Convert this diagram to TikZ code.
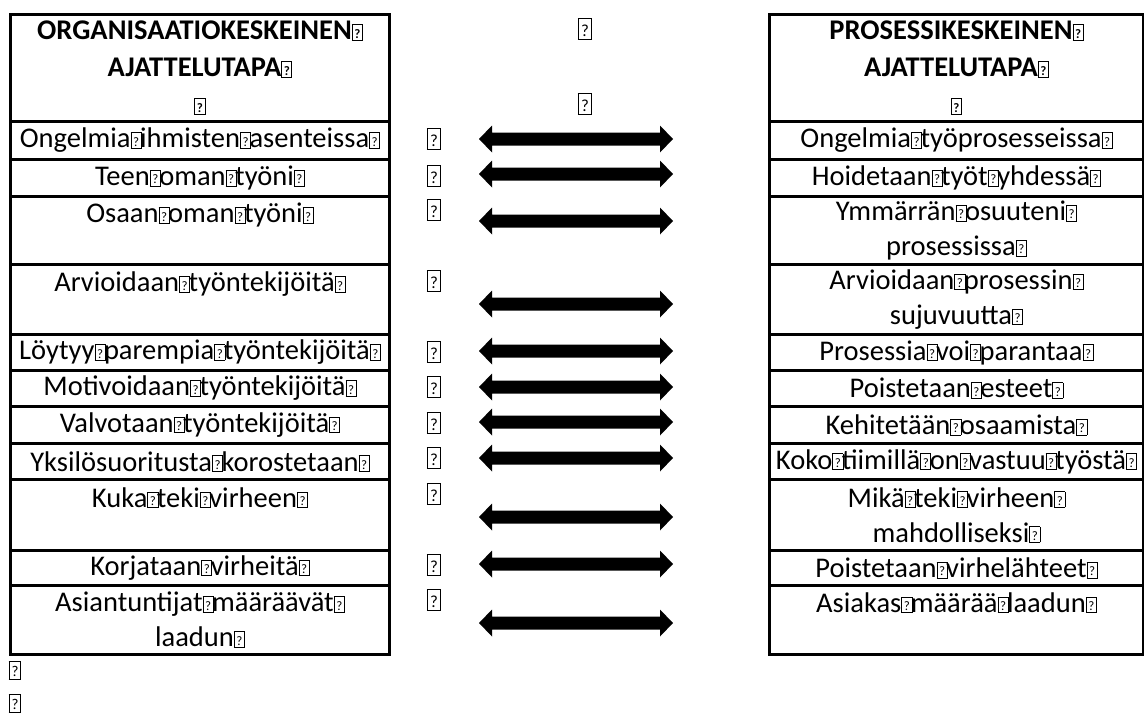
\documentclass[tikz,border=0pt]{standalone}
\usepackage{fontspec}
\usepackage{graphicx}
\setmainfont{Carlito}
% missing-glyph box and a space with that box over it
\newcommand{\qbox}{{\setlength{\fboxsep}{0pt}\setlength{\fboxrule}{0.8pt}%
  \fbox{\makebox[0.33em]{\rule{0pt}{0.52em}\raisebox{0.06em}{\fontsize{13}{13}\selectfont ?}}}}}
\newcommand{\qs}{\rlap{\qbox}\space}
\newcommand{\dblarrow}[2]{\fill (#1) -- ([shift={(13,-13.5)}]#1) -- ([shift={(13,-6.5)}]#1)
  -- ([shift={(-13,-6.5)}]#2) -- ([shift={(-13,-13.5)}]#2) -- (#2)
  -- ([shift={(-13,13.5)}]#2) -- ([shift={(-13,6.5)}]#2)
  -- ([shift={(13,6.5)}]#1) -- ([shift={(13,13.5)}]#1) -- cycle;}
\tikzset{
  cell/.style={draw,line width=3pt,anchor=north west,inner sep=0pt,align=center,
    font=\fontsize{28.5}{35}\selectfont},
  lcell/.style={cell,minimum width=379pt,text width=379pt},
  rcell/.style={cell,minimum width=374pt,text width=374pt},
  head/.style={font=\fontsize{28.5}{37}\selectfont\bfseries},
  glyphmark/.style={inner sep=0pt,font=\fontsize{28.5}{35}\selectfont}
}
\begin{document}
\begin{tikzpicture}[x=1pt,y=-1pt]
\useasboundingbox (0,0) rectangle (1144,715);
% left table
\node[lcell,head,minimum height=107pt] (hdL) at (9,13) {ORGANISAATIOKESKEINEN\qbox\\AJATTELUTAPA\qbox\\\qbox};
\node[lcell,minimum height=38pt] (l1) at (9,120) {Ongelmia\qs ihmisten\qs asenteissa\qbox};
\node[lcell,minimum height=37pt] (l2) at (9,158) {Teen\qs oman\qs työni\qbox};
\node[lcell,minimum height=68pt] (l3) at (9,195) {Osaan\qs oman\qs työni\qbox\\\mbox{}};
\node[lcell,minimum height=70pt] (l4) at (9,263) {Arvioidaan\qs työntekijöitä\qbox\\\mbox{}};
\node[lcell,minimum height=36pt] (l5) at (9,333) {Löytyy\qs parempia\qs työntekijöitä\qbox};
\node[lcell,minimum height=36pt] (l6) at (9,369) {Motivoidaan\qs työntekijöitä\qbox};
\node[lcell,minimum height=37pt] (l7) at (9,405) {Valvotaan\qs työntekijöitä\qbox};
\node[lcell,minimum height=36pt] (l8) at (9,442) {Yksilösuoritusta\qs korostetaan\qbox};
\node[lcell,minimum height=71pt] (l9) at (9,478) {Kuka\qs teki\qs virheen\qbox\\\mbox{}};
\node[lcell,minimum height=35pt] (l10) at (9,549) {Korjataan\qs virheitä\qbox};
\node[lcell,minimum height=69pt] (l11) at (9,584) {Asiantuntijat\qs määräävät\qbox\\laadun\qbox};
% right table
\node[rcell,head,minimum height=107pt] (hdR) at (768,13) {PROSESSIKESKEINEN\qbox\\AJATTELUTAPA\qbox\\\qbox};
\node[rcell,minimum height=38pt] (r1) at (768,120) {Ongelmia\qs työprosesseissa\qbox};
\node[rcell,minimum height=37pt] (r2) at (768,158) {Hoidetaan\qs työt\qs yhdessä\qbox};
\node[rcell,minimum height=68pt] (r3) at (768,195) {Ymmärrän\qs osuuteni\qbox\\prosessissa\qbox};
\node[rcell,minimum height=70pt] (r4) at (768,263) {Arvioidaan\qs prosessin\qbox\\sujuvuutta\qbox};
\node[rcell,minimum height=36pt] (r5) at (768,333) {Prosessia\qs voi\qs parantaa\qbox};
\node[rcell,minimum height=36pt] (r6) at (768,369) {Poistetaan\qs esteet\qbox};
\node[rcell,minimum height=37pt] (r7) at (768,405) {Kehitetään\qs osaamista\qbox};
\node[rcell,minimum height=36pt] (r8) at (768,442) {Koko\qs tiimillä\qs on\qs vastuu\qs työstä\qbox};
\node[rcell,minimum height=71pt] (r9) at (768,478) {Mikä\qs teki\qs virheen\qbox\\mahdolliseksi\qbox};
\node[rcell,minimum height=35pt] (r10) at (768,549) {Poistetaan\qs virhelähteet\qbox};
\node[rcell,minimum height=69pt] (r11) at (768,584) {Asiakas\qs määrää\qs laadun\qbox\\\mbox{}};
% middle column
\node[glyphmark] (mh1) at (585,29) {\scalebox{1.3}{\qbox}};
\node[glyphmark] (mh2) at (585,104) {\scalebox{1.3}{\qbox}};
\foreach \y [count=\i] in {139,176,210,281,352,387,423,458,494,565,600}
  \node[glyphmark] (m\i) at (434,\y) {\scalebox{1.3}{\qbox}};
\node[glyphmark] (e1) at (15,670) {\scalebox{1.15}{\qbox}};
\node[glyphmark] (e2) at (15,703) {\scalebox{1.15}{\qbox}};
% arrows
\foreach \y [count=\i] in {139,174,221,304,351,387,422,458,517,564,623}{
  \coordinate (al\i) at (479,\y);
  \coordinate (ar\i) at (673,\y);
  \dblarrow{al\i}{ar\i}
}
\end{tikzpicture}
\end{document}
